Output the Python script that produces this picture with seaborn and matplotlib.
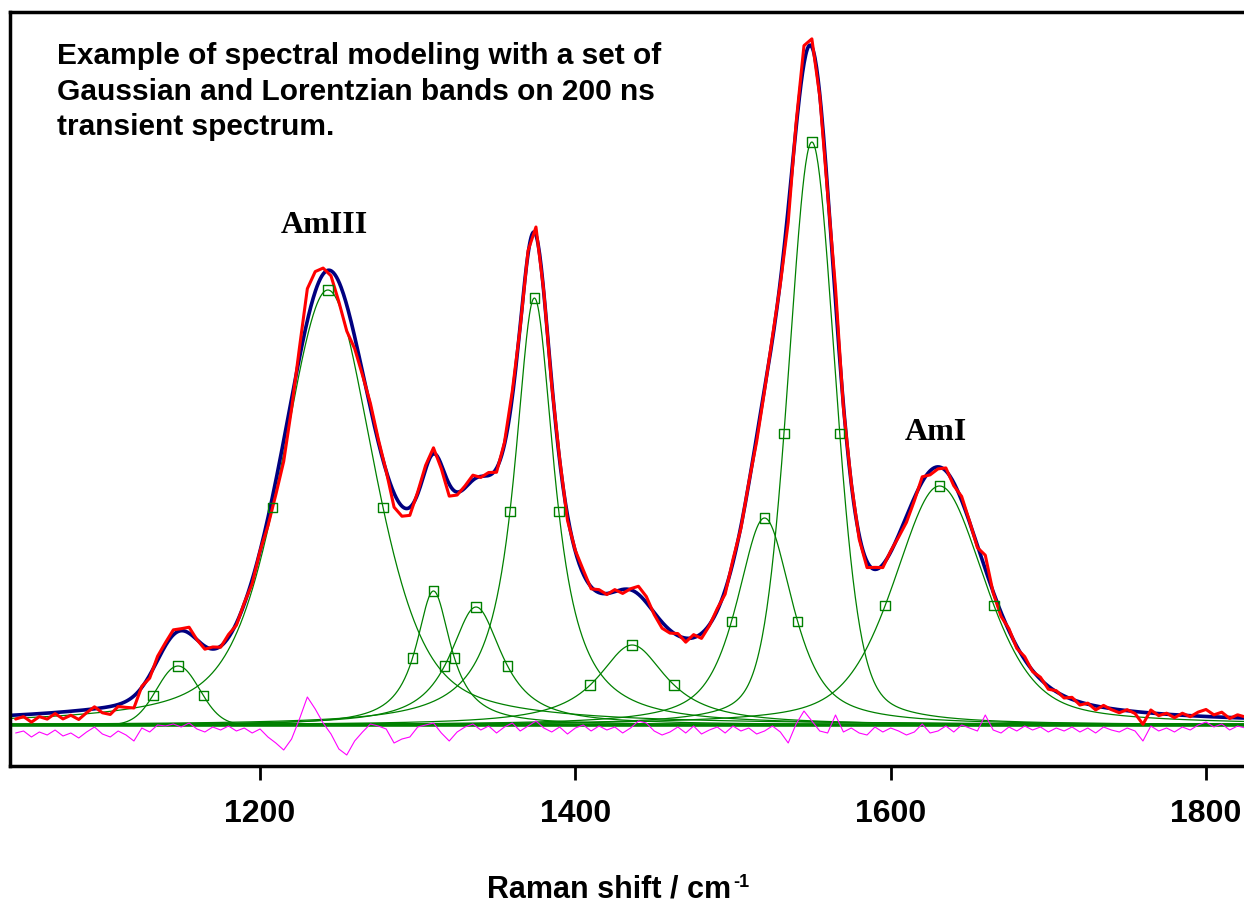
import numpy as np
import matplotlib
matplotlib.use("Agg")
import matplotlib.pyplot as plt
import seaborn as sns

# Band model (height in px-units above baseline)
band_center = [1148, 1243, 1310, 1337, 1374, 1436, 1520, 1550, 1631]
band_height = [59, 435, 134, 118, 427, 80, 207, 583, 239]
band_hwhm = [16, 35, 13.3, 20, 15.5, 26.6, 21, 17.7, 34.5]
# Lorentzian fraction of each band (0 = Gaussian, 1 = Lorentzian)
band_eta = [0.0, 0.52, 1.0, 0.95, 1.0, 1.0, 0.72, 0.31, 0.48]

# residual (measured - model) read every 5 cm-1 from 1045 cm-1
resid_start, resid_step = 1045, 5
residual = [
    -4, -2, -8, -3, -6, -1, -7, -4, -9, -3,
    2, -5, -8, -2, -6, -12, 1, -3, 4, 3,
    5, 2, 6, 0, -3, 2, -1, 3, -2, 1,
    -4, 0, -8, -14, -21, -10, 10, 32, 20, 6,
    -5, -20, -26, -12, -3, 5, 3, 0, -14, -10,
    -8, 2, 4, 6, -4, -12, -3, 2, 5, -1,
    3, -4, 2, 6, -2, 3, 8, 1, -3, 2,
    -5, 1, 4, -2, 3, -1, 2, -4, 1, 8,
    6, -2, -6, -3, 2, -4, 3, -5, -1, 2,
    -4, 3, -2, 1, -5, -2, 3, -3, -14, 5,
    18, 8, -2, -4, 14, -3, 1, -4, -6, 2,
    -3, 1, -2, -6, -3, 5, -4, -2, 3, -3,
    4, 1, -2, 14, -1, -4, 2, -2, 3, -1,
    2, -3, 1, -2, 2, -3, 1, -4, 2, -1,
    -3, 1, -2, -12, 3, -2, 1, -3, 2, -1,
    4, 7, 2, 5, -1, 3, 1,
]

tick_values = [1200, 1400, 1600, 1800]
tick_labels = ["1200", "1400", "1600", "1800"]


def gauss(x, c, h, w):
    return h * np.exp(-np.log(2) * ((x - c) / w) ** 2)


def lorentz(x, c, h, w):
    return h / (1 + ((x - c) / w) ** 2)


def band(x, i):
    c, h, w, e = band_center[i], band_height[i], band_hwhm[i], band_eta[i]
    return (1 - e) * gauss(x, c, h, w) + e * lorentz(x, c, h, w)


xmin, xmax = 1041.4, 1827.9
xf = np.linspace(xmin, xmax, 1600)
total_f = sum(band(xf, i) for i in range(len(band_center)))

xr = np.arange(resid_start, resid_start + resid_step * len(residual), resid_step)
res = np.array(residual, float)
total_r = sum(band(xr, i) for i in range(len(band_center)))
meas = total_r + res

sns.set_style("white")
plt.rcParams['font.family'] = ['Liberation Sans', 'DejaVu Sans']
plt.rcParams['text.color'] = 'black'
plt.rcParams['xtick.color'] = 'black'
plt.rcParams['xtick.labelcolor'] = 'black'
fig = plt.figure(figsize=(12.44, 9.07), dpi=100)
ax = fig.add_axes([10 / 1244, (907 - 766) / 907, 1240 / 1244, (766 - 12) / 907])

green = "#008000"
for i in range(len(band_center)):
    sns.lineplot(x=xf, y=band(xf, i), ax=ax, color=green, lw=0.9, estimator=None, sort=False)
sns.lineplot(x=[xmin, xmax], y=[0, 0], ax=ax, color=green, lw=2.6, estimator=None, sort=False)
sns.lineplot(x=xr, y=res - 4, ax=ax, color="#FF00FF", lw=0.8, estimator=None, sort=False)
sns.lineplot(x=xf, y=total_f, ax=ax, color="#000080", lw=2.6, estimator=None, sort=False)
sns.lineplot(x=xr, y=meas, ax=ax, color="#FF0000", lw=2.2, estimator=None, sort=False)

mx, my = [], []
for i in range(len(band_center)):
    c, w = band_center[i], band_hwhm[i]
    for xx in (c - w, c, c + w):
        mx.append(xx)
        my.append(float(band(np.array([xx]), i)[0]))
sns.scatterplot(x=mx, y=my, ax=ax, marker='s', s=46, facecolors='none',
                edgecolor=green, linewidth=1.0, zorder=5)

ax.set_xlim(xmin, xmax)
ax.set_ylim(-41, 713)
ax.set_yticks([])
ax.set_xticks(tick_values)
ax.set_xticklabels(tick_labels, fontsize=23, fontweight='bold', color='black')
ax.tick_params(axis='x', direction='out', length=10, width=2, pad=14, bottom=True,
               color='black', labelcolor='black')
for s in ("left", "bottom", "top"):
    ax.spines[s].set_linewidth(2.5)
    ax.spines[s].set_color("black")
ax.spines["right"].set_visible(False)
ax.set_xlabel("")
ax.set_ylabel("")

# x-axis title with small raised "-1"
xl = fig.text(487 / 1244, 1 - 890 / 907, "Raman shift / cm", ha='left', va='center',
              fontsize=22, fontweight='bold', color='black')
fig.canvas.draw()
bb = xl.get_window_extent(renderer=fig.canvas.get_renderer())
fig.text((bb.x1 + 2) / 1244, (bb.y1 + 1) / 907, "-1", ha='left', va='top',
         fontsize=13, fontweight='bold', color='black')

fig.text(57 / 1244, 1 - 42 / 907,
         "Example of spectral modeling with a set of\nGaussian and Lorentzian bands on 200 ns\ntransient spectrum.",
         ha='left', va='top', fontsize=21.5, fontweight='bold', linespacing=1.35, color='black')
fig.text(324 / 1244, 1 - 233 / 907, "AmIII", ha='center', va='baseline', fontsize=23,
         fontweight='bold', family='Liberation Serif', color='black')
fig.text(936 / 1244, 1 - 440 / 907, "AmI", ha='center', va='baseline', fontsize=23,
         fontweight='bold', family='Liberation Serif', color='black')

fig.savefig("out.png", dpi=100)
